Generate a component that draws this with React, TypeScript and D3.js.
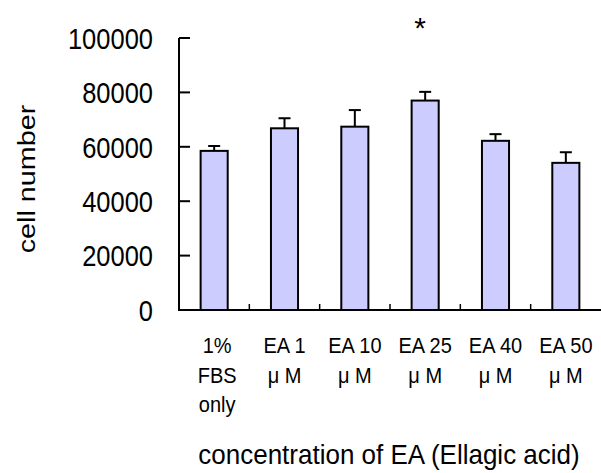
import React from 'react';
import * as d3 from 'd3';

const categories = ['1%|FBS|only', 'EA 1|μ M', 'EA 10|μ M', 'EA 25|μ M', 'EA 40|μ M', 'EA 50|μ M'];
const means = [58500, 66800, 67400, 77000, 62200, 54100];
const errors = [1800, 3700, 6100, 3200, 2450, 3900];
const yTicks = [0, 20000, 40000, 60000, 80000, 100000];
const starred = ['EA 25|μ M'];

const W = 601, H = 473;
const left = 179, right = 601, top = 38, bottom = 310;
const font = "'Liberation Sans', Arial, sans-serif";

const App = () => {
    const x = d3.scaleBand().domain(categories).range([left, right]).padding(0);
    const y = d3.scaleLinear().domain([0, 100000]).range([bottom, top]);
    const barW = x.bandwidth() * 0.385;
    const capW = 12;

    return (
        <svg width={W} height={H} style={{ position: 'absolute', left: 0, top: 0, background: '#fff' }}>
            {/* bars + error bars */}
            {categories.map((c, i) => {
                const cx = x(c)! + x.bandwidth() / 2;
                const yTop = y(means[i]);
                const yErr = y(means[i] + errors[i]);
                return (
                    <g key={c}>
                        <line x1={cx} x2={cx} y1={yTop} y2={yErr} stroke="#000" strokeWidth={2} />
                        <line x1={cx - capW / 2} x2={cx + capW / 2} y1={yErr} y2={yErr} stroke="#000" strokeWidth={2} />
                        <rect x={cx - barW / 2} y={yTop} width={barW} height={bottom - yTop}
                            fill="#CCCCFF" stroke="#000" strokeWidth={2} />
                    </g>
                );
            })}

            {/* y axis */}
            <line x1={left} x2={left} y1={top} y2={bottom} stroke="#000" strokeWidth={2} />
            {yTicks.map(t => (
                <g key={t}>
                    <line x1={left} x2={left + 11} y1={y(t)} y2={y(t)} stroke="#000" strokeWidth={2} />
                    <text transform={`translate(153,${y(t)}) scale(1,1.18)`} y={9.1} textAnchor="end"
                        fontFamily={font} fontSize={25.5} fill="#000">{t}</text>
                </g>
            ))}

            {/* x axis */}
            <line x1={left - 1} x2={right} y1={bottom} y2={bottom} stroke="#000" strokeWidth={2} />
            {categories.map((c, i) => i > 0 && (
                <line key={c} x1={x(c)!} x2={x(c)!} y1={bottom} y2={bottom - 6} stroke="#000" strokeWidth={1.5} />
            ))}
            {categories.map(c => {
                const cx = x(c)! + x.bandwidth() / 2 + (c.startsWith('1%') ? 3 : 0);
                return (
                    <g key={c}>
                        {c.split('|').map((line, j) => (
                            <text key={j} transform={`translate(${cx},${353 + j * 29.5}) scale(1,1.14)`}
                                textAnchor="middle" fontFamily={font} fontSize={20} fill="#000">{line}</text>
                        ))}
                    </g>
                );
            })}

            {/* significance */}
            {starred.map(c => (
                <text key={c} x={x(c)! + x.bandwidth() / 2 - 5} y={38} textAnchor="middle"
                    fontFamily={font} fontSize={30} fill="#000">*</text>
            ))}

            {/* axis titles */}
            <text transform="translate(35,179) rotate(-90) scale(1.25,1)" textAnchor="middle"
                fontFamily={font} fontSize={23} fill="#000">cell number</text>
            <text transform="translate(389,464) scale(1,1.08)" textAnchor="middle"
                fontFamily={font} fontSize={26} fill="#000">
                concentration of EA (Ellagic acid)
            </text>
        </svg>
    );
};

export default App;
